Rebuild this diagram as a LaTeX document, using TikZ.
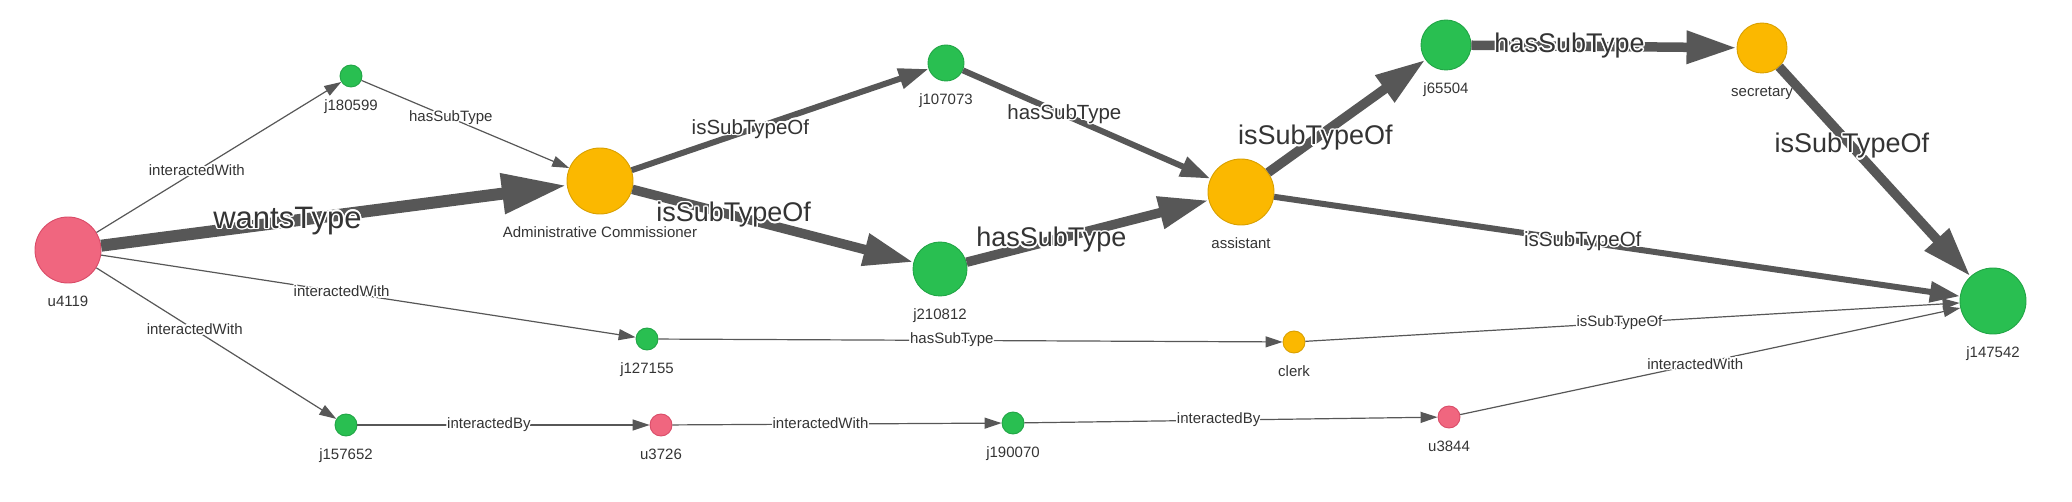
\documentclass[tikz,border=0pt]{standalone}
\usepackage{fontspec}
\setmainfont{Liberation Sans}
\usepackage{contour}
\contourlength{1.5pt}
\usetikzlibrary{arrows.meta}

\definecolor{usrpink}{HTML}{F0667F}
\definecolor{usrpinkb}{HTML}{D94C68}
\definecolor{jobgreen}{HTML}{29BF51}
\definecolor{jobgreenb}{HTML}{21A546}
\definecolor{typamber}{HTML}{FBB800}
\definecolor{typamberb}{HTML}{D9A000}
\definecolor{edgegray}{HTML}{575757}
\definecolor{txtgray}{HTML}{343434}

\newcommand{\halo}[1]{\contour{white}{#1}}

\tikzset{
  vert/.style={circle, inner sep=0pt, line width=0.9pt},
  usr/.style={vert, fill=usrpink, draw=usrpinkb},
  job/.style={vert, fill=jobgreen, draw=jobgreenb},
  typ/.style={vert, fill=typamber, draw=typamberb},
  nlab/.style={anchor=base, label distance=23pt, inner sep=0pt, text=txtgray, font=\fontsize{15}{18}\selectfont},
  ethin/.style={draw=edgegray, line width=1.2pt, -{Triangle[length=17pt,width=11pt]}},
  emid/.style={draw=edgegray, line width=6pt, -{Triangle[length=30pt,width=20pt]}},
  ethick/.style={draw=edgegray, line width=9.5pt, -{Triangle[length=50pt,width=31pt]}},
  eheavy/.style={draw=edgegray, line width=12pt, -{Triangle[length=65pt,width=38pt]}},
  lthin/.style={inner sep=0pt, text=txtgray, font=\fontsize{15}{18}\selectfont},
  lmid/.style={inner sep=0pt, text=txtgray, font=\fontsize{20.5}{24}\selectfont},
  lthick/.style={inner sep=0pt, text=txtgray, font=\fontsize{27}{32}\selectfont},
  lheavy/.style={inner sep=0pt, text=txtgray, font=\fontsize{31}{36}\selectfont}
}

\begin{document}
\begin{tikzpicture}[x=1pt, y=-1pt]
                \useasboundingbox (0,0) rectangle (2072,502);

                \node[usr, minimum size=66pt, label={[nlab]below:u4119}] (u4119) at (68,250) {};
                \node[job, minimum size=22pt, label={[nlab]below:j180599}] (j180599) at (351,76) {};
                \node[typ, minimum size=66pt, label={[nlab]below:Administrative Commissioner}] (admin) at (600,181) {};
                \node[job, minimum size=22pt, label={[nlab]below:j127155}] (j127155) at (647,339) {};
                \node[job, minimum size=22pt, label={[nlab]below:j157652}] (j157652) at (346,425) {};
                \node[usr, minimum size=22pt, label={[nlab]below:u3726}] (u3726) at (661,425) {};
                \node[job, minimum size=36pt, label={[nlab]below:j107073}] (j107073) at (946,63) {};
                \node[job, minimum size=54pt, label={[nlab]below:j210812}] (j210812) at (940,269) {};
                \node[typ, minimum size=66pt, label={[nlab]below:assistant}] (assistant) at (1241,192) {};
                \node[typ, minimum size=22pt, label={[nlab]below:clerk}] (clerk) at (1294,342) {};
                \node[job, minimum size=22pt, label={[nlab]below:j190070}] (j190070) at (1013,423) {};
                \node[usr, minimum size=22pt, label={[nlab]below:u3844}] (u3844) at (1449,417) {};
                \node[job, minimum size=50pt, label={[nlab]below:j65504}] (j65504) at (1446,45) {};
                \node[typ, minimum size=50pt, label={[nlab]below:secretary}] (secretary) at (1762,48) {};
                \node[job, minimum size=66pt, label={[nlab]below:j147542}] (j147542) at (1993,301) {};

                % thin edges
                \draw[ethin] (u4119) to node[pos=.41, lthin] {\halo{interactedWith}} (j180599);
                \draw[ethin] (j180599) to node[pos=.43, lthin] {\halo{hasSubType}} (admin);
                \draw[ethin] (u4119) to node[pos=.45, lthin] {\halo{interactedWith}} (j127155);
                \draw[ethin] (u4119) to node[pos=.41, lthin] {\halo{interactedWith}} (j157652);
                \draw[ethin] (j157652) to node[pos=.45, lthin] {\halo{interactedBy}} (u3726);
                \draw[ethin] (j127155) to node[pos=.47, lthin] {\halo{hasSubType}} (clerk);
                \draw[ethin] (clerk) to node[pos=.48, lthin] {\halo{isSubTypeOf}} (j147542);
                \draw[ethin] (u3726) to node[pos=.45, lthin] {\halo{interactedWith}} (j190070);
                \draw[ethin] (j190070) to node[pos=.47, lthin] {\halo{interactedBy}} (u3844);
                \draw[ethin] (u3844) to node[pos=.47, lthin] {\halo{interactedWith}} (j147542);

                % heavier edges
                \draw[emid] (admin) to node[pos=.40, lmid] {\halo{isSubTypeOf}} (j107073);
                \draw[emid] (j107073) to node[pos=.41, lmid] {\halo{hasSubType}} (assistant);
                \draw[emid] (assistant) to node[pos=.45, lmid] {\halo{isSubTypeOf}} (j147542);
                \draw[ethick] (admin) to node[pos=.36, lthick] {\halo{isSubTypeOf}} (j210812);
                \draw[ethick] (j210812) to node[pos=.35, lthick] {\halo{hasSubType}} (assistant);
                \draw[ethick] (assistant) to node[pos=.30, lthick] {\halo{isSubTypeOf}} (j65504);
                \draw[ethick] (j65504) to node[pos=.37, lthick] {\halo{hasSubType}} (secretary);
                \draw[ethick] (secretary) to node[pos=.38, lthick] {\halo{isSubTypeOf}} (j147542);
                \draw[eheavy] (u4119) to node[pos=.40, lheavy] {\halo{wantsType}} (admin);
\end{tikzpicture}
\end{document}
